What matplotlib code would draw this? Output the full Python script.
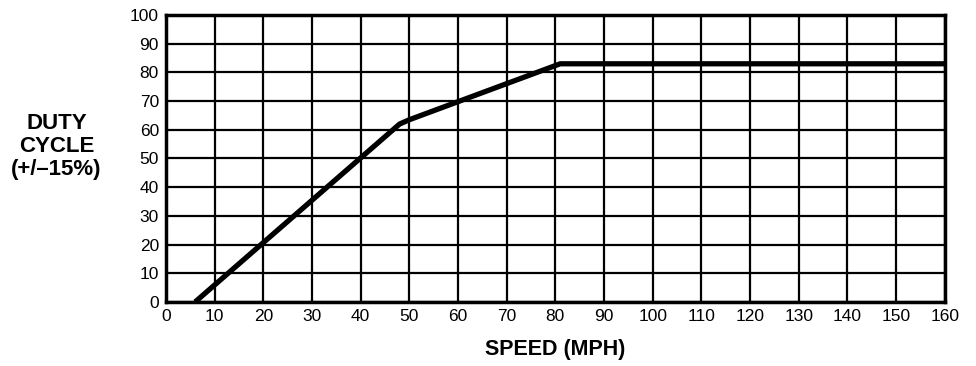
import matplotlib
matplotlib.use("Agg")
import matplotlib.pyplot as plt
import numpy as np

speed = [6, 48, 50, 81, 160]
duty = [0, 62, 63.5, 83, 83]
x_ticks = list(range(0, 161, 10))
y_ticks = list(range(0, 101, 10))

plt.rcParams['font.family'] = ['Liberation Sans', 'DejaVu Sans']

fig = plt.figure(figsize=(9.76, 3.66), dpi=100)
ax = fig.add_axes([0.170, 0.175, 0.798, 0.784])
ax.plot(speed, duty, color='black', lw=3.8, solid_joinstyle='round', solid_capstyle='butt', zorder=3)
ax.set_xlim(0, 160)
ax.set_ylim(0, 100)
ax.set_xticks(x_ticks)
ax.set_yticks(y_ticks)
ax.set_xticklabels([str(v) for v in x_ticks], fontsize=12.5)
ax.set_yticklabels([str(v) for v in y_ticks], fontsize=12.5)
ax.tick_params(length=0, pad=5)
ax.grid(True, color='black', lw=1.6)
for s in ax.spines.values():
    s.set_linewidth(2.5)
ax.set_xlabel('SPEED (MPH)', fontsize=15.5, fontweight='bold', labelpad=11)
fig.text(0.058, 0.60, 'DUTY\nCYCLE\n(+/\u201315%)', ha='center', va='center',
         fontsize=16, fontweight='bold', linespacing=1.1)
fig.savefig('out.png', dpi=100)
